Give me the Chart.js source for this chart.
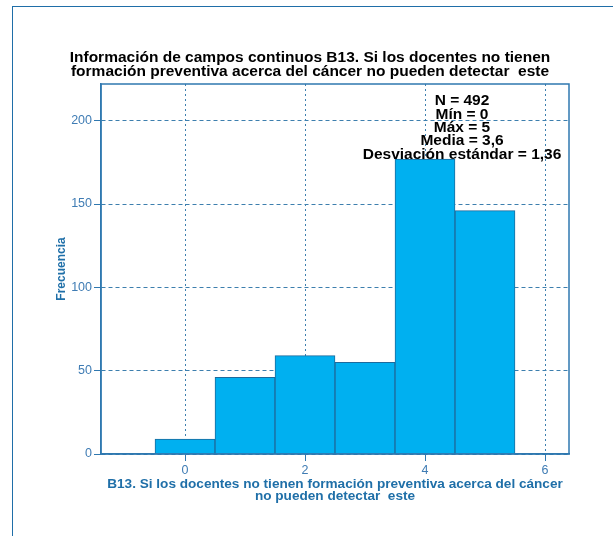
<!DOCTYPE html>
<html>
<head>
<meta charset="utf-8">
<script src="https://cdn.jsdelivr.net/npm/chart.js@4"></script>
<style>
  html, body { margin: 0; padding: 0; background: #fff; }
  #wrap { position: relative; width: 613px; height: 536px; }
  #frame { position: absolute; left: 12px; top: 6px; width: 601px; height: 530px;
           border-top: 1.5px solid #1f6ea8; border-left: 1.5px solid #1f6ea8; box-sizing: border-box; }
  canvas { position: absolute; left: 0; top: 0; }
</style>
</head>
<body>
<div id="wrap">
  <div id="frame"></div>
  <canvas id="histChart" width="613" height="536"></canvas>
</div>
<script>
// Histogram data
const binCenters = [0, 1, 2, 3, 4, 5];
const frequencies = [9, 46, 59, 55, 177, 146];
const xTickValues = [0, 2, 4, 6];
const yTickValues = [0, 50, 100, 150, 200];
const titleLines = ['Información de campos continuos B13. Si los docentes no tienen',
                    'formación preventiva acerca del cáncer no pueden detectar  este'];
const xTitleLines = ['B13. Si los docentes no tienen formación preventiva acerca del cáncer',
                     'no pueden detectar  este'];
const yTitle = 'Frecuencia';
const statsLines = ['N = 492', 'Mín = 0', 'Máx = 5', 'Media = 3,6', 'Desviación estándar = 1,36'];

const axisColor = '#2f78b0';
const gridColor = '#3d7fae';
const labelColor = '#3f7cb4';
const titleBlue = '#1f6fa8';
const fontFamily = 'Arial, "Liberation Sans", sans-serif';

// box round the plot area (top and right sides too)
const plotFrame = {
  id: 'plotFrame',
  afterDraw(chart) {
    const {ctx, chartArea: a} = chart;
    ctx.save();
    ctx.strokeStyle = axisColor;
    ctx.lineWidth = 1.5;
    ctx.strokeRect(a.left, a.top, a.right - a.left, a.bottom - a.top);
    ctx.restore();
  }
};

// summary text in the upper right of the plot
const statsBox = {
  id: 'statsBox',
  afterDatasetsDraw(chart) {
    const {ctx, chartArea: a} = chart;
    ctx.save();
    ctx.font = 'bold 15.5px ' + fontFamily;
    ctx.fillStyle = '#000';
    ctx.textAlign = 'center';
    ctx.textBaseline = 'middle';
    statsLines.forEach((t, i) => {
      ctx.fillText(t, a.right - 107, a.top + 17 + i * 13.4);
    });
    ctx.restore();
  }
};

const ctx = document.getElementById('histChart').getContext('2d');

const histChart = new Chart(ctx, {
  type: 'bar',
  data: {
    datasets: [{
      data: binCenters.map((x, i) => ({x: x, y: frequencies[i]})),
      backgroundColor: '#00b0f0',
      borderColor: '#1d6a9c',
      borderWidth: 1,
      barPercentage: 1,
      categoryPercentage: 1
    }]
  },
  options: {
    responsive: false,
    animation: false,
    layout: { padding: { left: 7, right: 0, top: 0, bottom: 0 } },
    plugins: {
      legend: { display: false },
      tooltip: { enabled: false },
      title: {
        display: true,
        text: titleLines,
        color: '#000',
        font: { family: fontFamily, size: 15.5, weight: 'bold', lineHeight: 14 / 15.5 },
        padding: { top: 51, bottom: 5 }
      }
    },
    scales: {
      x: {
        type: 'linear',
        min: -1.4,
        max: 6.4,
        offset: false,
        afterBuildTicks: s => { s.ticks = xTickValues.map(v => ({value: v})); },
        afterFit: s => { s.height = 82; },
        ticks: { color: labelColor, padding: 2, font: { family: fontFamily, size: 12.5 } },
        grid: { offset: false, color: gridColor, tickColor: axisColor, tickLength: 7 },
        border: { color: axisColor, width: 1.5, dash: [2, 3] },
        title: {
          display: true,
          text: xTitleLines,
          color: titleBlue,
          font: { family: fontFamily, size: 13.6, weight: 'bold', lineHeight: 12 / 13.6 },
          padding: { top: 0, bottom: 34 }
        }
      },
      y: {
        min: 0,
        max: 222,
        afterBuildTicks: s => { s.ticks = yTickValues.map(v => ({value: v})); },
        afterFit: s => { s.width = 94; },
        ticks: { color: labelColor, padding: 2, font: { family: fontFamily, size: 12.5 } },
        grid: { color: gridColor, tickColor: axisColor, tickLength: 7 },
        border: { color: axisColor, width: 1.5, dash: [4, 3] },
        title: {
          display: true,
          text: yTitle,
          color: titleBlue,
          font: { family: fontFamily, size: 12, weight: 'bold', lineHeight: 1 },
          padding: { top: 49, bottom: 0 }
        }
      },
      y2: {
        position: 'right',
        min: 0,
        max: 1,
        afterFit: s => { s.width = 44; },
        ticks: { display: false },
        grid: { display: false },
        border: { display: false }
      }
    }
  },
  plugins: [plotFrame, statsBox]
});
</script>
</body>
</html>
